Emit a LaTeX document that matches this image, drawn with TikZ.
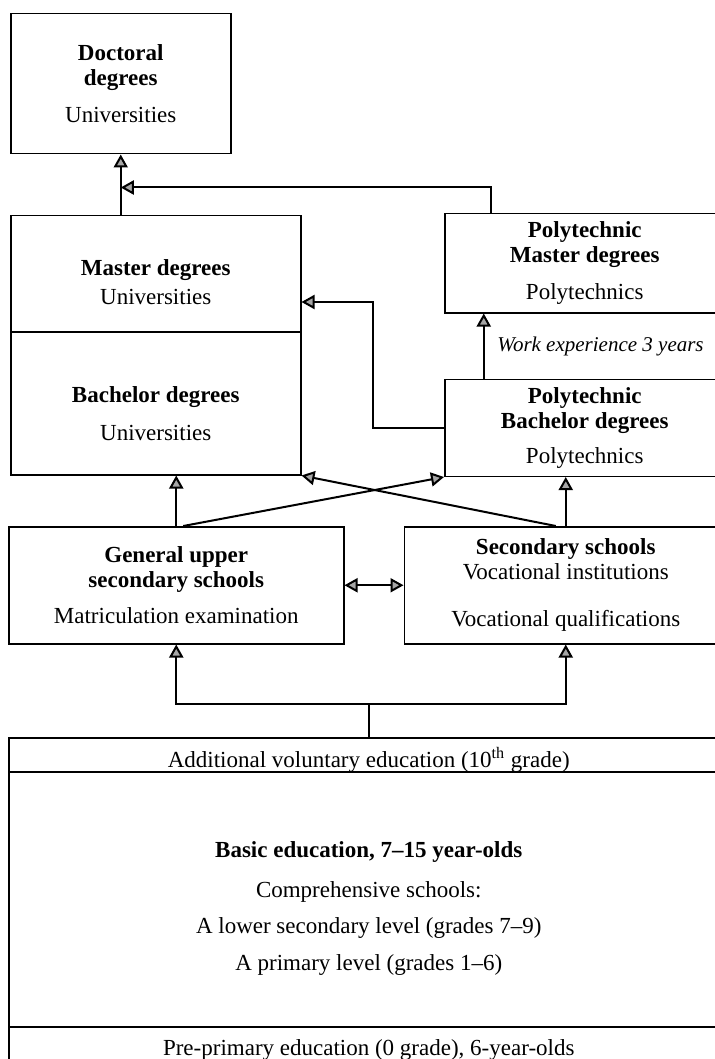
\documentclass[tikz,border=0pt]{standalone}
\usepackage{fontspec}
\setmainfont{Liberation Serif}
\usetikzlibrary{arrows.meta, positioning}

\tikzset{
    box/.style={draw, rectangle, line width=0.75pt, inner sep=0pt, align=center, anchor=north west},
    txt/.style={align=center, inner sep=0pt},
    arr/.style={line width=1pt, -{Triangle[length=6.5pt, width=7pt, fill=gray!70]}},
    arrboth/.style={line width=1pt, {Triangle[length=6.5pt, width=7pt, fill=gray!70]}-{Triangle[length=6.5pt, width=7pt, fill=gray!70]}}
}

\begin{document}
\begin{tikzpicture}[
    x=0.5pt, y=-0.5pt,
    font=\fontsize{11.5pt}{12.5pt}\selectfont
]
\useasboundingbox (0,0) rectangle (715,1059);

% Doctoral level
\node[box, minimum width=110pt, minimum height=70pt] (doctoral) at (10,13) {
    \textbf{Doctoral}\\
    \textbf{degrees}\\[6pt]
    Universities
};

% Universities: master + bachelor in one box
\node[box, minimum width=145pt, minimum height=129.5pt] (univ) at (10,215) {};
\draw[line width=0.75pt] ([yshift=-58.5pt]univ.north west) -- ([yshift=-58.5pt]univ.north east);
\node[txt] (master) at ([yshift=-33.5pt]univ.north) {
    \textbf{Master degrees}\\[2pt]
    Universities
};
\node[txt] (bachelor) at ([yshift=-99.5pt]univ.north) {
    \textbf{Bachelor degrees}\\[6.5pt]
    Universities
};

% Polytechnics
\node[box, minimum width=140pt, minimum height=49.5pt] (polymaster) at (444,213) {
    \textbf{Polytechnic}\\
    \textbf{Master degrees}\\[6pt]
    Polytechnics
};
\node[box, minimum width=140pt, minimum height=48.5pt, below=32.5pt of polymaster] (polybachelor) {
    \textbf{Polytechnic}\\
    \textbf{Bachelor degrees}\\[5pt]
    Polytechnics
};

% Upper secondary level
\node[box, minimum width=167.5pt, minimum height=58.5pt] (general) at (8,526) {
    \textbf{General upper}\\
    \textbf{secondary schools}\\[5.5pt]
    Matriculation examination
};
\node[box, minimum width=161.5pt, minimum height=58.5pt, right=29.5pt of general] (secondary) {
    \textbf{Secondary schools}\\
    Vocational institutions\\[11pt]
    Vocational qualifications
};

% Basic education box
\node[box, minimum width=360pt, minimum height=166pt] (basic) at (8,737) {};
\draw[line width=0.75pt] ([yshift=-17.5pt]basic.north west) -- ([yshift=-17.5pt]basic.north east);
\draw[line width=0.75pt] ([yshift=-145pt]basic.north west) -- ([yshift=-145pt]basic.north east);
\node[txt] (additional) at ([yshift=-11.5pt]basic.north) {Additional voluntary education (10\textsuperscript{th} grade)};
\node[txt] (basicedu) at ([yshift=-85.5pt]basic.north) {
    \textbf{Basic education, 7--15 year-olds}\\[7.5pt]
    Comprehensive schools:\\[5.5pt]
    A lower secondary level (grades 7--9)\\[6pt]
    A primary level (grades 1--6)
};
\node[txt] (preprimary) at ([yshift=-156.5pt]basic.north) {Pre-primary education (0 grade), 6-year-olds};

% Connectors
\coordinate[above=16.5pt of basic.north] (fork);
\draw[line width=1pt] (basic.north) -- (fork);
\draw[arr] (fork) -| (general.south);
\draw[arr] (fork) -| (secondary.south);
\draw[arrboth] (general) -- (secondary);

\draw[arr] (general.north) -- (general.north |- univ.south);
\draw[arr] ([xshift=3.5pt]general.north) -- (polybachelor.south west);
\draw[arr] ([xshift=-5pt]secondary.north) -- (univ.south east);
\draw[arr] (secondary.north) -- (secondary.north |- polybachelor.south);

\coordinate (bend) at (373,302);
\draw[arr] (polybachelor.west) -| (bend) -- (bend -| univ.east);
\draw[arr] ([xshift=-50.5pt]polybachelor.north) -- ([xshift=-50.5pt]polymaster.south)
    node[midway, right=3pt, font=\itshape\fontsize{10.5pt}{12pt}\selectfont] (workexp) {Work experience 3 years};

\coordinate (meet) at ([yshift=-16.5pt]doctoral.south);
\draw[arr] (doctoral.south |- univ.north) -- (doctoral.south);
\draw[arr] ([xshift=-47pt]polymaster.north) |- (meet);

\end{tikzpicture}
\end{document}
